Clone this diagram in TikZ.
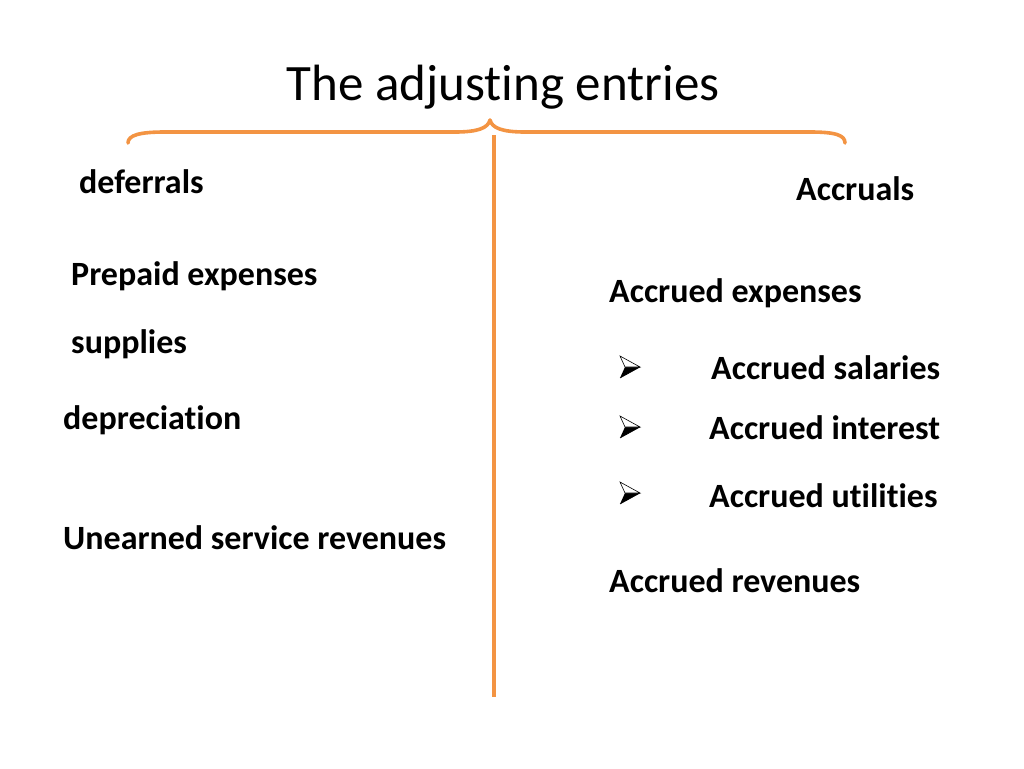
\documentclass[tikz,border=0pt]{standalone}
\usepackage{fontspec}
\setmainfont{Carlito}[Ligatures=NoCommon]
\usepackage{xcolor}
\usetikzlibrary{calc}
\definecolor{brace}{HTML}{F39443}
\definecolor{ink}{HTML}{000000}
\tikzset{
  rule/.style={draw=brace, line width=3.6pt, line cap=round, line join=round},
  item/.style={anchor=base west, inner sep=0pt, text=ink, font=\fontsize{34}{40}\selectfont\bfseries},
  head/.style={anchor=base, inner sep=0pt, text=ink, font=\fontsize{51}{60}\selectfont},
  arrowbullet/.pic={
    \fill[ink] (-9,11) -- (-4,0) -- (11,0) -- cycle;
    \draw[ink, line width=0.6pt, fill=white, line join=miter] (-9,-11) -- (11,0) -- (-4,0) -- cycle;
    \draw[ink, line width=0.6pt] (-9,11) -- (11,0);
  },
}

\begin{document}
\begin{tikzpicture}[x=1pt, y=-1pt]
  \useasboundingbox (0,0) rectangle (1024,768);

  % title and brace
  \node[head] (title) at (503,100) {The adjusting entries};
  \draw[rule] (128,143) .. controls (128,135) and (140,132) .. (165,132)
    -- (455,132) .. controls (478,132) and (488,128) .. (490,120)
    .. controls (492,128) and (502,132) .. (525,132)
    -- (810,132) .. controls (835,132) and (845,135) .. (845,143);
  \coordinate (top) at (494,135);
  \coordinate (bottom) at (494,697);
  \draw[rule, line cap=butt] (top) -- (bottom);

  % deferrals
  \node[item] (deferrals) at (79,193) {deferrals};
  \node[item] (prepaid) at (71,285) {Prepaid expenses};
  \node[item] (supplies) at (71,353) {supplies};
  \node[item] (deprec) at (63,429) {depreciation};
  \node[item] (unearned) at (63,549) {Unearned service revenues};

  % accruals
  \node[item] (accruals) at (796,200) {Accruals};
  \node[item] (accexp) at (609,302) {Accrued expenses};
  \node[item] (salaries) at (711,379) {Accrued salaries};
  \node[item] (interest) at (709,439) {Accrued interest};
  \node[item] (utilities) at (709,507) {Accrued utilities};
  \node[item] (accrev) at (609,592) {Accrued revenues};

  \pic at (629,367) {arrowbullet};
  \pic at (629,427) {arrowbullet};
  \pic at (629,493) {arrowbullet};
\end{tikzpicture}
\end{document}
